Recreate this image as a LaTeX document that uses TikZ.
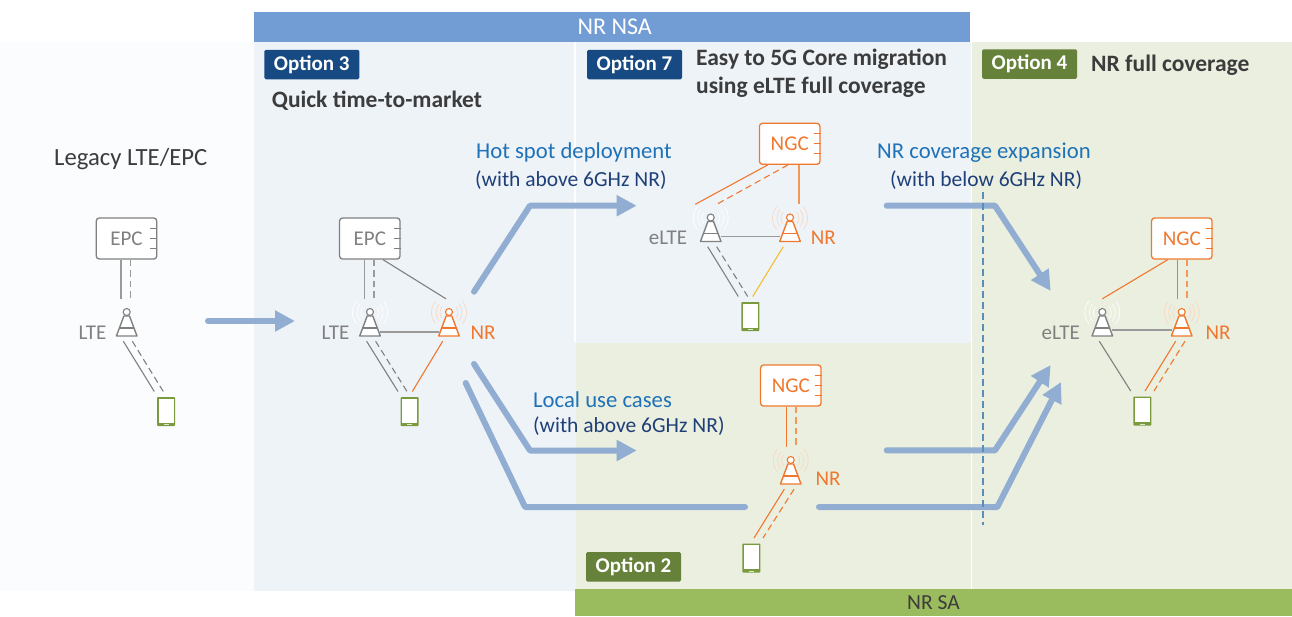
\documentclass[tikz,border=0pt]{standalone}
\usepackage{fontspec}
\setmainfont{Carlito}
\usetikzlibrary{arrows.meta,calc}
\definecolor{bannerblue}{HTML}{729CD4}
\definecolor{bannergreen}{HTML}{9BBB5F}
\definecolor{regionblue}{HTML}{EEF3F8}
\definecolor{regiongreen}{HTML}{EAEFDF}
\definecolor{regionpale}{HTML}{FAFCFD}
\definecolor{tagblue}{HTML}{174A82}
\definecolor{taggreen}{HTML}{66813A}
\definecolor{flow}{HTML}{92ADD2}
\definecolor{netgrey}{HTML}{808080}
\definecolor{softgrey}{HTML}{9A9A9A}
\definecolor{netorange}{HTML}{F0782E}
\definecolor{softorange}{HTML}{F4975A}
\definecolor{netyellow}{HTML}{F5BE2E}
\definecolor{phonegreen}{HTML}{7A9A3E}
\definecolor{darktext}{HTML}{3C3C3C}
\definecolor{linkblue}{HTML}{1F72B8}
\definecolor{navytext}{HTML}{1F3F78}
\definecolor{dashblue}{HTML}{5B8DBB}
\definecolor{arcorange}{HTML}{F8D8C2}
\tikzset{
  optiontag/.style={fill=#1,rounded corners=1.5pt,text=white,font=\fontsize{21}{24}\selectfont\bfseries,minimum width=95pt,minimum height=29.5pt,inner sep=0pt},
  heading/.style={text=darktext,font=\fontsize{23.5}{28}\selectfont\bfseries,inner sep=0pt,align=left},
  capblue/.style={text=linkblue,font=\fontsize{22.7}{26}\selectfont,inner sep=0pt},
  capnavy/.style={text=navytext,font=\fontsize{21.5}{24}\selectfont,inner sep=0pt},
  netlabel/.style={text=#1,font=\fontsize{21}{24}\selectfont,inner sep=0pt},
  corebox/.style={draw=#1,fill=white,rounded corners=3pt,line width=1.3pt,text=#1,minimum width=60.5pt,minimum height=41pt,inner sep=0pt,font=\fontsize{21}{24}\selectfont},
  towerbox/.style={minimum width=20pt,minimum height=42pt,inner sep=0pt},
  phonebox/.style={fill=phonegreen,rounded corners=.8pt,minimum width=18pt,minimum height=29pt,inner sep=0pt,outer sep=0pt},
  link/.style={draw=#1,line width=1.1pt},
  dlink/.style={draw=#1,line width=1.1pt,dash pattern=on 6.5pt off 4pt},
  flowline/.style={draw=flow,line width=6pt,line cap=round,line join=round},
  flowarrow/.style={flowline,-{Triangle[length=20pt,width=20pt]}},
}
\newcommand{\coreticks}[2]{%
  \foreach \dy in {-10,0,10}{\draw[#2,line width=1.1pt] ([xshift=-7pt,yshift=\dy pt]#1.east) -- ([yshift=\dy pt]#1.east);}}
\newcommand{\towerat}[5]{% name, x, y, colour, arc colour
  \node[towerbox] (#1) at (#2,#3) {};
  \foreach \rr in {9,13,17.5}{
    \draw[#5,line width=.7pt] ($(#1.center)+(0,-7.5)$) ++(-40:\rr pt) arc (-40:40:\rr pt);
    \draw[#5,line width=.7pt] ($(#1.center)+(0,-7.5)$) ++(140:\rr pt) arc (140:220:\rr pt);
  }
  \draw[#4,line width=1.4pt,fill=white,line join=round] ($(#1.center)+(-2.8,-4)$) -- ($(#1.center)+(-10.3,16)$) -- ($(#1.center)+(10.3,16)$) -- ($(#1.center)+(2.8,-4)$) -- cycle;
  \draw[#4,line width=1.4pt] ($(#1.center)+(-7.3,8)$) -- ($(#1.center)+(7.3,8)$);
  \draw[#4,line width=1.1pt,fill=white] ($(#1.center)+(0,-8)$) circle (3.5pt);
}
\newcommand{\phoneat}[3]{%
  \node[phonebox] (#1) at (#2,#3) {};
  \fill[white] ([xshift=1.5pt,yshift=-1.5pt]#1.north west) rectangle ([xshift=-1.5pt,yshift=3.4pt]#1.south east);
  \fill[white!75!phonegreen] ([xshift=-2.5pt,yshift=.6pt]#1.south) rectangle ([xshift=2.5pt,yshift=2pt]#1.south);
}
\begin{document}
\begin{tikzpicture}[x=1pt,y=-1pt]
\useasboundingbox (0,0) rectangle (1292,616);
% regions
\fill[regionpale] (0,42) rectangle (254,591);
\fill[regionblue] (254,42) rectangle (971,591);
\fill[white] (574.2,42) rectangle (576,342);
\fill[regiongreen] (576,343) rectangle (971,589);
\fill[regiongreen] (972,42) rectangle (1292,589);
\fill[white] (970.8,343) rectangle (972.4,589);
% banners
\node[fill=bannerblue,minimum width=715.5pt,minimum height=30pt,inner sep=0pt,text=white,font=\fontsize{24}{28}\selectfont] (nsa) at (611.75,27) {\hspace{6pt}NR NSA};
\node[fill=bannergreen,minimum width=717pt,minimum height=27pt,inner sep=0pt,text=darktext,font=\fontsize{21.5}{24}\selectfont] (sa) at (933.5,602.5) {NR SA};
% tags
\node[optiontag=tagblue] (opt3) at (311.8,64.5) {Option 3};
\node[optiontag=tagblue] (opt7) at (634.5,64.5) {Option 7};
\node[optiontag=taggreen] (opt4) at (1029.5,64) {Option 4};
\node[optiontag=taggreen] (opt2) at (633.5,566.8) {Option 2};
% headings
\node[heading,anchor=west] (quick) at (271.7,100.5) {Quick time-to-market};
\node[heading,anchor=west] (easy) at (696,73.5) {Easy to 5G Core migration\\using eLTE full coverage};
\node[heading,anchor=west] (full) at (1091,65.5) {NR full coverage};
\node[anchor=west,inner sep=0pt,text=darktext,font=\fontsize{24.7}{28}\selectfont] (legacy) at (54,159.5) {Legacy LTE/EPC};
% captions
\node[capblue,anchor=west] (hot) at (476,152.5) {Hot spot deployment};
\node[capnavy,anchor=west] (hot2) at (475,180.5) {(with above 6GHz NR)};
\node[capblue,anchor=west] (loc) at (533,399.5) {Local use cases};
\node[capnavy,anchor=west] (loc2) at (533,426) {(with above 6GHz NR)};
\node[capblue,anchor=west] (cov) at (877,152.5) {NR coverage expansion};
\node[capnavy,anchor=west] (cov2) at (890,180.5) {(with below 6GHz NR)};
% flow arrows
\coordinate (fa1) at (208,321); \coordinate (fa2) at (295,321);
\draw[flowarrow] (fa1) -- (fa2);
\coordinate (fb1) at (474,291.7); \coordinate (fb2) at (530,205.7); \coordinate (fb3) at (636.7,205.7);
\draw[flowarrow] (fb1) -- (fb2) -- (fb3);
\coordinate (fc1) at (474,364); \coordinate (fc2) at (530,450.5); \coordinate (fc3) at (636.7,450.5);
\draw[flowarrow] (fc1) -- (fc2) -- (fc3);
\coordinate (fd1) at (465.7,383); \coordinate (fd2) at (525,507); \coordinate (fd3) at (745,507);
\draw[flowline] (fd1) -- (fd2) -- (fd3);
\coordinate (fe1) at (819,507); \coordinate (fe2) at (997.3,507); \coordinate (fe3) at (1061,382);
\draw[flowarrow] (fe1) -- (fe2) -- (fe3);
\coordinate (ff1) at (886.7,205.7); \coordinate (ff2) at (995,205.7); \coordinate (ff3) at (1050.7,291);
\draw[flowarrow] (ff1) -- (ff2) -- (ff3);
\coordinate (fg1) at (886.7,450.3); \coordinate (fg2) at (995,450.3); \coordinate (fg3) at (1050.7,365);
\draw[flowarrow] (fg1) -- (fg2) -- (fg3);
\coordinate (dv1) at (983.3,192); \coordinate (dv2) at (983.3,525);
\draw[dashblue,line width=1.7pt,dash pattern=on 7pt off 4pt] (dv1) -- (dv2);
% legacy column
\node[corebox=netgrey] (epcA) at (126.5,238.5) {EPC}; \coreticks{epcA}{netgrey}
\towerat{lteA}{126.7}{320}{netgrey}{white}
\phoneat{phA}{166}{411.5}
\node[netlabel=netgrey] (lblLteA) at (92.5,332.5) {LTE};
\draw[link=softgrey,line width=1.3pt] ([xshift=-5.5pt]epcA.south) -- ([xshift=-5.7pt]lteA.north);
\draw[dlink=softgrey,line width=1.3pt] ([xshift=4.2pt]epcA.south) -- ([xshift=4pt]lteA.north);
\draw[link=netgrey] ([xshift=-3.4pt]lteA.south) -- ([xshift=-11.7pt,yshift=5.5pt]phA.north);
\draw[dlink=netgrey] ([xshift=5.6pt]lteA.south) -- ([xshift=-2.7pt,yshift=5.5pt]phA.north);
% option 3 column
\node[corebox=netgrey] (epcB) at (369.8,238.5) {EPC}; \coreticks{epcB}{netgrey}
\towerat{lteB}{370}{320}{netgrey}{white}
\towerat{nrB}{449}{320}{netorange}{arcorange}
\phoneat{phB}{409.7}{411.5}
\node[netlabel=netgrey] (lblLteB) at (335.5,332.5) {LTE};
\node[netlabel=netorange] (lblNrB) at (483,332.5) {NR};
\draw[link=softgrey,line width=1.3pt] ([xshift=-5.3pt]epcB.south) -- ([xshift=-5.5pt]lteB.north);
\draw[dlink=softgrey,line width=1.3pt] ([xshift=4.2pt]epcB.south) -- ([xshift=4pt]lteB.north);
\draw[link=netgrey] ([xshift=13.2pt]epcB.south) -- ([xshift=-3pt]nrB.north);
\draw[link=softgrey,line width=1.5pt] ([xshift=10pt,yshift=-12pt]lteB.center) -- ([xshift=-10pt,yshift=-12pt]nrB.center);
\draw[link=netgrey] ([xshift=-3.4pt]lteB.south) -- ([xshift=-11.7pt,yshift=5.5pt]phB.north);
\draw[dlink=netgrey] ([xshift=5.6pt]lteB.south) -- ([xshift=-2.7pt,yshift=5.5pt]phB.north);
\draw[link=netorange] ([xshift=-6.3pt]nrB.south) -- ([xshift=2.6pt,yshift=5.5pt]phB.north);
% option 7 column
\node[corebox=netorange] (ngcC) at (789.7,143.8) {NGC}; \coreticks{ngcC}{netorange}
\towerat{lteC}{710.7}{225.5}{netgrey}{white}
\towerat{nrC}{790}{225.5}{netorange}{arcorange}
\phoneat{phC}{750.4}{316.5}
\node[netlabel=netgrey] (lblLteC) at (668,237.5) {eLTE};
\node[netlabel=netorange] (lblNrC) at (823.3,237.5) {NR};
\draw[link=netorange] ([xshift=-22pt]ngcC.south) -- ([xshift=-15.4pt]lteC.north);
\draw[dlink=netorange] ([xshift=-1.7pt]ngcC.south) -- ([xshift=6pt]lteC.north);
\draw[link=softorange,line width=1.3pt] ([xshift=9.3pt]ngcC.south) -- ([xshift=9pt]nrC.north);
\draw[link=softgrey,line width=1.5pt] ([xshift=10pt,yshift=-11.2pt]lteC.center) -- ([xshift=-10pt,yshift=-11.2pt]nrC.center);
\draw[link=netgrey] ([xshift=-3pt]lteC.south) -- ([xshift=-12.1pt,yshift=5.5pt]phC.north);
\draw[dlink=netgrey] ([xshift=6pt]lteC.south) -- ([xshift=-2.7pt,yshift=5.5pt]phC.north);
\draw[link=netyellow] ([xshift=-6.7pt]nrC.south) -- ([xshift=2.3pt,yshift=5.5pt]phC.north);
% option 2 column
\node[corebox=netorange] (ngcD) at (790.8,385.5) {NGC}; \coreticks{ngcD}{netorange}
\towerat{nrD}{790.7}{468}{netorange}{arcorange}
\phoneat{phD}{751.4}{558}
\node[netlabel=netorange] (lblNrD) at (828,478.5) {NR};
\draw[link=netorange,line width=1.3pt] ([xshift=-4.5pt]ngcD.south) -- ([xshift=-4.4pt]nrD.north);
\draw[dlink=softorange,line width=1.3pt] ([xshift=5.2pt]ngcD.south) -- ([xshift=5.3pt]nrD.north);
\draw[link=netorange] ([xshift=-6.4pt]nrD.south) -- ([xshift=2.6pt,yshift=5.5pt]phD.north);
\draw[dlink=netorange] ([xshift=3.3pt]nrD.south) -- ([xshift=11.6pt,yshift=5.5pt]phD.north);
% option 4 column
\node[corebox=netorange] (ngcE) at (1181.8,238.5) {NGC}; \coreticks{ngcE}{netorange}
\towerat{lteE}{1102.3}{320}{netgrey}{white}
\towerat{nrE}{1181.7}{320}{netorange}{arcorange}
\phoneat{phE}{1142.4}{411}
\node[netlabel=netgrey] (lblLteE) at (1060.7,332.5) {eLTE};
\node[netlabel=netorange] (lblNrE) at (1218,332.5) {NR};
\draw[link=netorange] ([xshift=-14pt]ngcE.south) -- (lteE.north);
\draw[link=netorange] ([xshift=-4.5pt]ngcE.south) -- ([xshift=-4.4pt]nrE.north);
\draw[dlink=softorange,line width=1.3pt] ([xshift=5.2pt]ngcE.south) -- ([xshift=5.3pt]nrE.north);
\draw[link=softgrey,line width=1.5pt] ([xshift=10pt,yshift=-10pt]lteE.center) -- ([xshift=-10pt,yshift=-10pt]nrE.center);
\draw[link=netgrey] ([xshift=-3pt]lteE.south) -- ([xshift=-11.7pt,yshift=5.5pt]phE.north);
\draw[link=netorange] ([xshift=-6pt]nrE.south) -- ([xshift=2.6pt,yshift=5.5pt]phE.north);
\draw[dlink=netorange] ([xshift=3.3pt]nrE.south) -- ([xshift=11.6pt,yshift=5.5pt]phE.north);
\end{tikzpicture}
\end{document}
